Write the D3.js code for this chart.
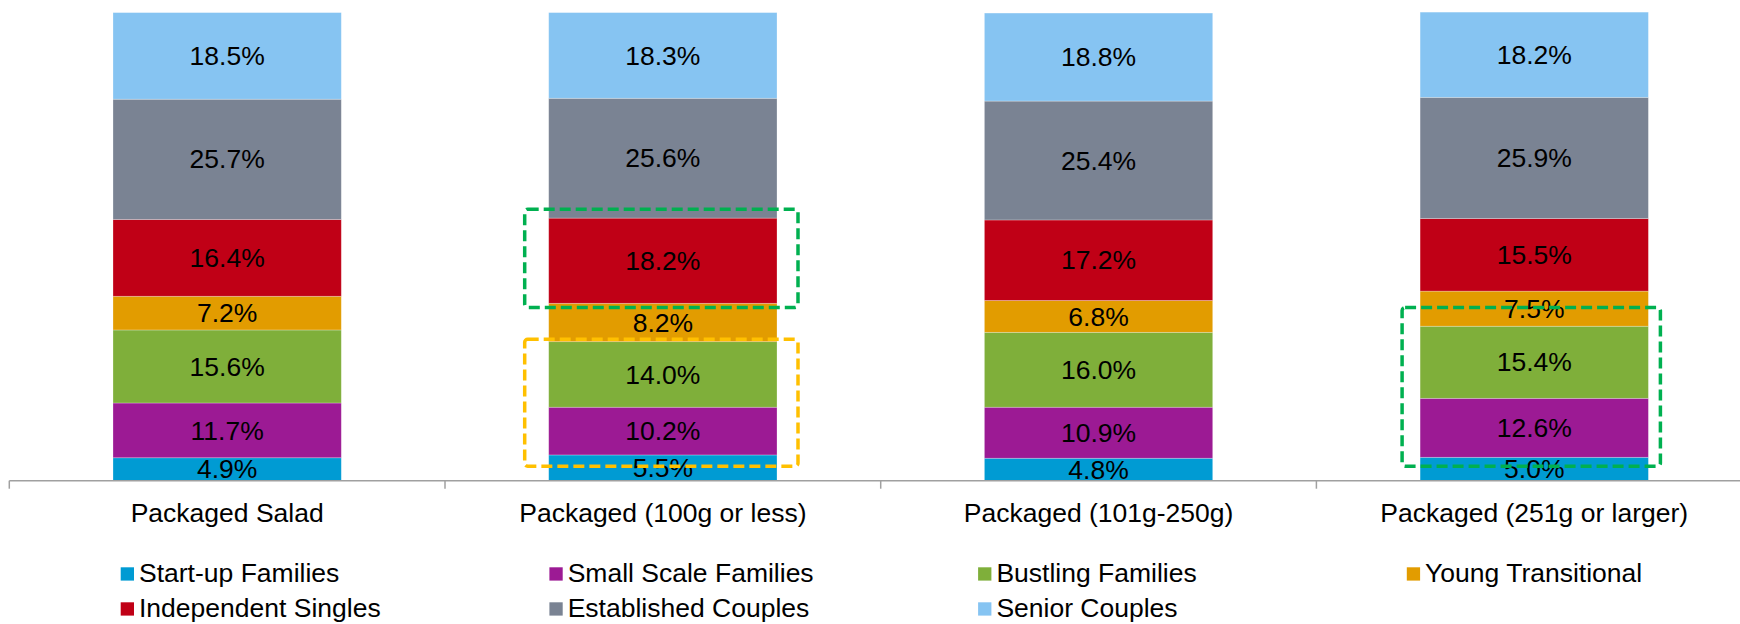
<!DOCTYPE html>
<html>
<head>
<meta charset="utf-8">
<script src="https://cdn.jsdelivr.net/npm/d3@7"></script>
<style>
  html, body { margin: 0; padding: 0; background: #fff; }
  svg { display: block; font-family: "Liberation Sans", Arial, sans-serif; }
</style>
</head>
<body>
<svg id="chart" width="1740" height="624"></svg>
<script>
// Product categories along the x axis
const categories = [
  "Packaged Salad",
  "Packaged (100g or less)",
  "Packaged (101g-250g)",
  "Packaged (251g or larger)"
];

// Household segments, stacked from the bottom up
const segments = [
  "Start-up Families",
  "Small Scale Families",
  "Bustling Families",
  "Young Transitional",
  "Independent Singles",
  "Established Couples",
  "Senior Couples"
];

// Share of each segment (%), one array per segment, in category order
const startupFamilies      = [4.9, 5.5, 4.8, 5.0];
const smallScaleFamilies   = [11.7, 10.2, 10.9, 12.6];
const bustlingFamilies     = [15.6, 14.0, 16.0, 15.4];
const youngTransitional    = [7.2, 8.2, 6.8, 7.5];
const independentSingles   = [16.4, 18.2, 17.2, 15.5];
const establishedCouples   = [25.7, 25.6, 25.4, 25.9];
const seniorCouples        = [18.5, 18.3, 18.8, 18.2];

const seriesValues = [
  startupFamilies, smallScaleFamilies, bustlingFamilies, youngTransitional,
  independentSingles, establishedCouples, seniorCouples
];

const colors = ["#009BD3", "#9C1A94", "#7FAF3A", "#E29C00", "#C00016", "#7A8393", "#86C4F2"];

// Highlight boxes: category, value range (%) they enclose, colour, side overhang (px)
const highlights = [
  { category: "Packaged (100g or less)",   from: 37.0, to: 58.0, color: "#00B050", padLeft: 24, padRight: 21 },
  { category: "Packaged (100g or less)",   from: 3.1,  to: 30.2, color: "#FFC000", padLeft: 24, padRight: 21 },
  { category: "Packaged (251g or larger)", from: 3.1,  to: 37.0, color: "#00B050", padLeft: 18, padRight: 12 }
];

// Build a row per category for d3.stack
const rows = categories.map((c, i) => {
  const r = { category: c };
  segments.forEach((s, j) => { r[s] = seriesValues[j][i]; });
  return r;
});

const svg = d3.select("#chart");
const fontSize = 26.5;
const capMid = fontSize * 0.345;

const axisY = 480.7;
const x = d3.scaleBand()
  .domain(categories)
  .range([9.3, 9.3 + 4 * 435.7])
  .paddingInner(0.476)
  .paddingOuter(0.238);

const y = d3.scaleLinear().domain([0, 100]).range([axisY, 12.6]);
const color = d3.scaleOrdinal().domain(segments).range(colors);

const stacked = d3.stack().keys(segments)(rows);

// Stacked bars
const layers = svg.append("g").selectAll("g")
  .data(stacked)
  .join("g")
  .attr("fill", d => color(d.key));

layers.selectAll("rect")
  .data(d => d)
  .join("rect")
  .attr("x", d => x(d.data.category))
  .attr("width", x.bandwidth())
  .attr("y", d => y(d[1]))
  .attr("height", d => y(d[0]) - y(d[1]))
  .attr("stroke", "#fff")
  .attr("stroke-opacity", 0.35)
  .attr("stroke-width", 0.75);

// Value labels centred in each segment
const labels = svg.append("g")
  .attr("font-size", fontSize)
  .attr("text-anchor", "middle")
  .attr("fill", "#000");

stacked.forEach(layer => {
  layer.forEach(d => {
    labels.append("text")
      .attr("x", x(d.data.category) + x.bandwidth() / 2)
      .attr("y", (y(d[0]) + y(d[1])) / 2 + capMid)
      .text(d3.format(".1f")(d[1] - d[0]) + "%");
  });
});

// Dashed highlight boxes
svg.append("g").selectAll("rect")
  .data(highlights)
  .join("rect")
  .attr("x", d => x(d.category) - d.padLeft)
  .attr("width", d => x.bandwidth() + d.padLeft + d.padRight)
  .attr("y", d => y(d.to))
  .attr("height", d => y(d.from) - y(d.to))
  .attr("rx", 3)
  .attr("fill", "none")
  .attr("stroke", d => d.color)
  .attr("stroke-width", 3.5)
  .attr("stroke-dasharray", "11,5");

// Category axis: baseline, boundary ticks and labels
const axisG = svg.append("g").attr("transform", `translate(0,${axisY})`);
const step = x.step();
const [r0] = x.range();
axisG.append("line")
  .attr("x1", r0).attr("x2", r0 + categories.length * step)
  .attr("stroke", "#A0A0A0").attr("stroke-width", 1.5);
axisG.selectAll("line.tick")
  .data(d3.range(categories.length + 1))
  .join("line")
  .attr("class", "tick")
  .attr("x1", i => r0 + i * step).attr("x2", i => r0 + i * step)
  .attr("y1", 0).attr("y2", 8)
  .attr("stroke", "#A0A0A0").attr("stroke-width", 1.5);

const labelAxis = d3.axisBottom(x).tickSize(0).tickSizeOuter(0).tickPadding(0);
const la = svg.append("g")
  .attr("transform", `translate(0,${axisY})`)
  .call(labelAxis);
la.select(".domain").remove();
la.selectAll("text")
  .attr("font-family", "Liberation Sans, Arial, sans-serif")
  .attr("font-size", fontSize)
  .attr("fill", "#000")
  .attr("dy", null)
  .attr("y", 522.3 - axisY);

// Legend
const legend = svg.append("g").attr("font-size", fontSize).attr("fill", "#000");
segments.forEach((s, i) => {
  const col = i % 4, row = Math.floor(i / 4);
  const lx = 120.7 + col * 428.7;
  const base = 581.7 + row * 35;
  const g = legend.append("g");
  g.append("rect")
    .attr("x", lx).attr("y", base - 14.4)
    .attr("width", 13.3).attr("height", 13.3)
    .attr("fill", color(s));
  g.append("text")
    .attr("x", lx + 18.3).attr("y", base)
    .text(s);
});
</script>
</body>
</html>
